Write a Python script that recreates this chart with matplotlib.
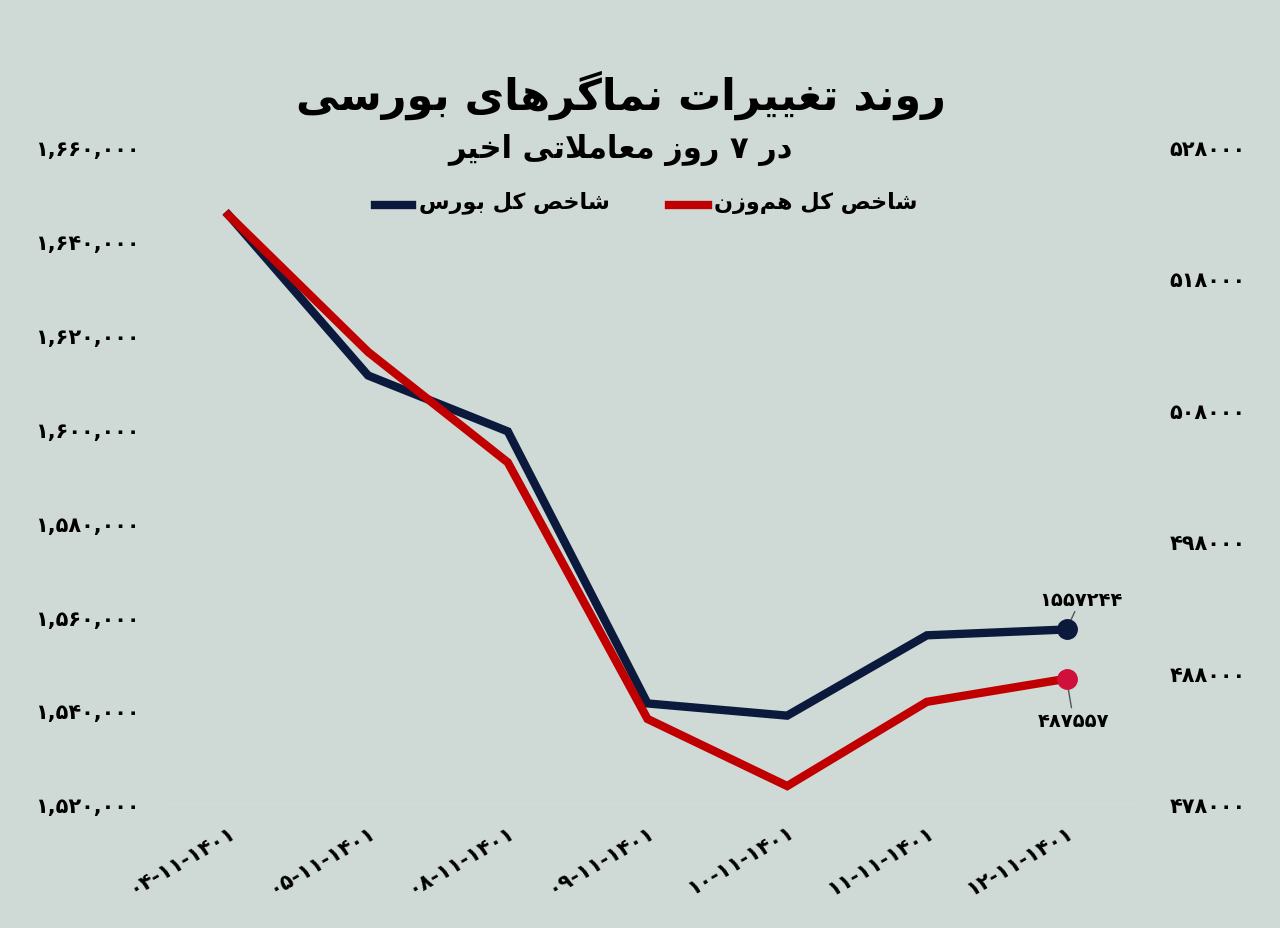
import matplotlib
matplotlib.use("Agg")
import matplotlib.pyplot as plt
from matplotlib.lines import Line2D

# Persian forms: isolated, final, initial, medial
FORMS = {
    "ا": ("\uFE8D", "\uFE8E", None, None), "ب": ("\uFE8F", "\uFE90", "\uFE91", "\uFE92"),
    "ت": ("\uFE95", "\uFE96", "\uFE97", "\uFE98"), "خ": ("\uFEA5", "\uFEA6", "\uFEA7", "\uFEA8"),
    "د": ("\uFEA9", "\uFEAA", None, None), "ر": ("\uFEAD", "\uFEAE", None, None),
    "ز": ("\uFEAF", "\uFEB0", None, None), "س": ("\uFEB1", "\uFEB2", "\uFEB3", "\uFEB4"),
    "ش": ("\uFEB5", "\uFEB6", "\uFEB7", "\uFEB8"), "ص": ("\uFEB9", "\uFEBA", "\uFEBB", "\uFEBC"),
    "ع": ("\uFEC9", "\uFECA", "\uFECB", "\uFECC"), "غ": ("\uFECD", "\uFECE", "\uFECF", "\uFED0"),
    "ل": ("\uFEDD", "\uFEDE", "\uFEDF", "\uFEE0"), "م": ("\uFEE1", "\uFEE2", "\uFEE3", "\uFEE4"),
    "ن": ("\uFEE5", "\uFEE6", "\uFEE7", "\uFEE8"), "ه": ("\uFEE9", "\uFEEA", "\uFEEB", "\uFEEC"),
    "و": ("\uFEED", "\uFEEE", None, None), "ی": ("\uFBFC", "\uFBFD", "\uFBFE", "\uFBFF"),
    "ک": ("\uFB8E", "\uFB8F", "\uFB90", "\uFB91"), "گ": ("\uFB92", "\uFB93", "\uFB94", "\uFB95"),
}


def dual(c):
    return c in FORMS and FORMS[c][2] is not None


def fa(s):
    """Crude Persian shaping + reversal for matplotlib (no bidi support)."""
    s = s.replace("لا", "\x01")
    out = []
    for i, c in enumerate(s):
        prev = s[i - 1] if i > 0 else ""
        nxt = s[i + 1] if i + 1 < len(s) else ""
        jp = dual(prev) and (c in FORMS or c == "\x01")
        if c == "\x01":
            out.append("\uFEFC" if jp else "\uFEFB")
            continue
        if c == "\u200c":
            continue
        if c not in FORMS:
            out.append(c)
            continue
        jn = dual(c) and (nxt in FORMS or nxt == "\x01")
        iso, fin, ini, med = FORMS[c]
        if jp and jn:
            out.append(med)
        elif jp:
            out.append(fin)
        elif jn:
            out.append(ini)
        else:
            out.append(iso)
    return "".join(out)[::-1]


def fa_digits(s):
    return s.translate(str.maketrans("0123456789", "۰۱۲۳۴۵۶۷۸۹"))


dates = ["04-11-1401", "05-11-1401", "08-11-1401", "09-11-1401",
         "10-11-1401", "11-11-1401", "12-11-1401"]
bourse = [1645500, 1611300, 1599400, 1541500, 1538900, 1556000, 1557244]
hamvazn = [522800, 512400, 504000, 484500, 479400, 485800, 487557]

left_ticks = list(range(1520000, 1660001, 20000))
right_ticks = list(range(478000, 528001, 10000))

BG = "#cfd9d6"
BLUE = "#0b1a3c"
RED = "#c00000"

fig = plt.figure(figsize=(12.8, 9.29), dpi=100, facecolor=BG)
ax = fig.add_axes([0.13, 0.133, 0.76, 0.708])
ax.set_facecolor(BG)
ax2 = ax.twinx()

x = list(range(len(dates)))
ax.plot(x, bourse, color=BLUE, lw=6, solid_joinstyle="miter", zorder=3)
ax2.plot(x, hamvazn, color=RED, lw=6, solid_joinstyle="miter", zorder=3)
ax.plot(x[-1], bourse[-1], "o", color=BLUE, ms=14, zorder=4)
ax2.plot(x[-1], hamvazn[-1], "o", color="#d0103a", ms=14, zorder=4)

ax.set_ylim(1520000, 1660000)
ax2.set_ylim(478000, 528000)
ax.set_xlim(-0.444, 6.52)
ax.set_yticks(left_ticks)
ax.set_yticklabels([fa_digits("{:,}".format(v)) for v in left_ticks])
ax2.set_yticks(right_ticks)
ax2.set_yticklabels([fa_digits(str(v)) for v in right_ticks])
ax.set_xticks(x)
ax.set_xticklabels([fa_digits(d) for d in dates], rotation=30, ha="right",
                   rotation_mode="anchor")

for a in (ax, ax2):
    for sp in a.spines.values():
        sp.set_visible(False)
    a.tick_params(length=0, labelsize=15, colors="black")
    for lbl in a.get_yticklabels() + a.get_xticklabels():
        lbl.set_fontweight("bold")
ax.axhline(1520000, color="#e6ecea", lw=1, zorder=1)
ax.tick_params(axis="x", pad=12)
ax2.tick_params(axis="y", pad=22)
for lbl in ax.get_yticklabels():
    lbl.set_horizontalalignment("left")
    lbl.set_x(-0.13)

ax.annotate(fa_digits("1557244"), xy=(x[-1], bourse[-1]), xytext=(x[-1] + 0.1, 1562500),
            ha="center", fontsize=14, fontweight="bold",
            arrowprops=dict(arrowstyle="-", color="#555", lw=1, shrinkA=0, shrinkB=6))
ax2.annotate(fa_digits("487557"), xy=(x[-1], hamvazn[-1]), xytext=(x[-1] + 0.05, 484000),
             ha="center", fontsize=14, fontweight="bold",
             arrowprops=dict(arrowstyle="-", color="#555", lw=1, shrinkA=0, shrinkB=6))

fig.text(0.485, 0.897, fa("روند تغییرات نماگرهای بورسی"), ha="center", va="center",
         fontsize=31, fontweight="bold")
fig.text(0.485, 0.838, fa("در ۷ روز معاملاتی اخیر"), ha="center", va="center",
         fontsize=22, fontweight="bold")

fig.text(0.558, 0.782, fa("شاخص کل هم‌وزن"), ha="left", va="center", fontsize=16,
         fontweight="bold")
fig.text(0.327, 0.782, fa("شاخص کل بورس"), ha="left", va="center", fontsize=16,
         fontweight="bold")
fig.add_artist(Line2D([0.523, 0.553], [0.778, 0.778], color=RED, lw=6))
fig.add_artist(Line2D([0.293, 0.322], [0.778, 0.778], color=BLUE, lw=6))

fig.savefig("out.png", dpi=100, facecolor=BG)
